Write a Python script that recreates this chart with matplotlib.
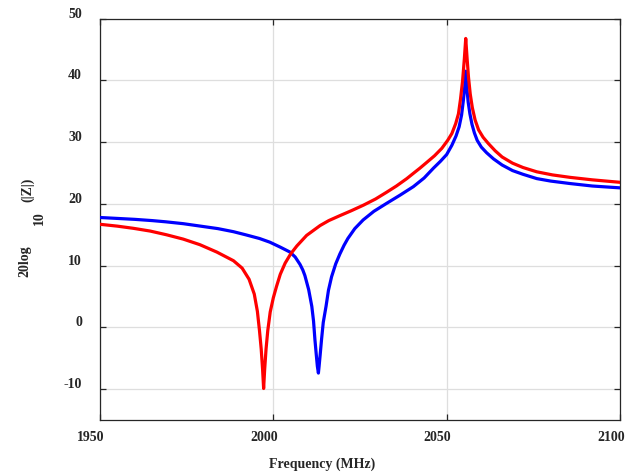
import matplotlib
matplotlib.use("Agg")
import matplotlib.pyplot as plt
import matplotlib.transforms as mtransforms

# Data (frequency in MHz, 20log10|Z| in dB)
blue_f = [1950, 1955, 1960, 1965, 1969, 1974, 1979, 1984, 1988.5, 1992, 1996, 1999,
          2002, 2004.8, 2006.3, 2007.7, 2008.5, 2009.1, 2010.2, 2011.1, 2011.6, 2012.0,
          2012.4, 2012.7, 2013.0, 2013.2, 2013.5, 2013.9, 2014.4, 2015.2, 2015.9, 2016.8,
          2018.0, 2019.2, 2020.4, 2021.5, 2023.5, 2025.9, 2029.0, 2032.7, 2036.5, 2040.4,
          2043.5, 2046.2, 2048.2, 2050.0, 2051.5, 2052.7, 2053.6, 2054.3, 2054.8, 2055.2,
          2055.5, 2055.8, 2056.2, 2056.7, 2057.3, 2058.0, 2058.8, 2060.0, 2061.5, 2063.5,
          2066.0, 2069.0, 2072.0, 2076.0, 2080.0, 2085.6, 2092.0, 2100]
blue_v = [17.8, 17.65, 17.5, 17.3, 17.1, 16.8, 16.4, 16.0, 15.5, 15.0, 14.4, 13.8,
          13.0, 12.2, 11.4, 10.2, 9.3, 8.4, 6.1, 3.4, 1.0, -2.0,
          -4.5, -6.3, -7.4, -6.3, -4.5, -2.0, 0.8, 3.4, 6.0, 8.2,
          10.3, 11.9, 13.3, 14.4, 16.0, 17.4, 18.8, 20.1, 21.4, 22.8,
          24.2, 25.8, 26.9, 28.0, 29.5, 31.0, 32.5, 34.4, 36.7, 38.9,
          41.5, 38.9, 36.5, 34.6, 32.9, 31.5, 30.3, 29.2, 28.3, 27.3,
          26.3, 25.4, 24.8, 24.1, 23.7, 23.3, 22.9, 22.6]

red_f = [1950, 1955, 1959.6, 1964.5, 1969.2, 1974, 1978.8, 1983.7, 1988.5, 1991.0,
         1993.0, 1994.5, 1995.4, 1996.0, 1996.5, 1996.9, 1997.2, 1997.5, 1997.9, 1998.4,
         1999.1, 2000.0, 2000.9, 2002.0, 2003.4, 2005.0, 2006.8, 2009.6, 2013.5, 2016.0,
         2019.2, 2022.5, 2026.0, 2029.5, 2032.7, 2035.5, 2038.5, 2040.5, 2042.3, 2044.2,
         2046.5, 2048.6, 2050.3, 2051.5, 2052.6, 2053.4, 2054.0, 2054.6, 2055.1, 2055.5,
         2055.9, 2056.3, 2056.8, 2057.4, 2058.2, 2059.2, 2060.5, 2062.0, 2064.0, 2066.0,
         2069.0, 2072.0, 2076.0, 2080.5, 2085.6, 2092.0, 2100]
red_v = [16.7, 16.4, 16.05, 15.6, 15.0, 14.3, 13.4, 12.2, 10.8, 9.6,
         7.8, 5.4, 2.6, -0.5, -3.5, -6.8, -9.9, -6.8, -3.5, -0.5,
         2.5, 4.8, 6.6, 8.6, 10.4, 11.9, 13.2, 14.9, 16.5, 17.3,
         18.1, 18.9, 19.8, 20.8, 21.9, 22.9, 24.1, 25.0, 25.8, 26.7,
         27.8, 29.0, 30.3, 31.4, 33.0, 34.6, 37.0, 40.0, 43.5, 46.8,
         43.5, 40.5, 37.8, 35.6, 33.6, 32.0, 30.8, 29.8, 28.6, 27.6,
         26.6, 25.9, 25.2, 24.7, 24.3, 23.9, 23.5]

x_ticks = [1950, 2000, 2050, 2100]
y_ticks = [-10, 0, 10, 20, 30, 40, 50]

W, H = 636, 474
fig = plt.figure(figsize=(W / 100, H / 100), dpi=100)
ax = fig.add_axes([100 / W, 1 - 420 / H, 520 / W, (420 - 18.7) / H])

text_color = "#262626"
font = dict(family=["Liberation Serif", "DejaVu Serif"], weight="bold", size=10, color=text_color)

ax.plot(blue_f, blue_v, color="#0000ff", lw=2.3, solid_joinstyle="round", zorder=3)
ax.plot(red_f, red_v, color="#ff0000", lw=2.3, solid_joinstyle="round", zorder=4)

ax.set_xlim(1950, 2100)
ax.set_ylim(-15, 50)
ax.set_xticks(x_ticks)
ax.set_yticks(y_ticks)
ax.set_xticklabels([str(t) for t in x_ticks], fontdict=font)
ax.set_yticklabels([str(t) for t in y_ticks], fontdict=font)
ax.grid(True, color="#dedede", lw=0.9)
ax.set_axisbelow(True)
ax.tick_params(direction="in", length=4, width=0.9, color=text_color,
               top=True, right=True)
ax.tick_params(axis="y", pad=13)
ax.tick_params(axis="x", pad=8)
for s in ax.spines.values():
    s.set_color(text_color)
    s.set_linewidth(0.9)

# shift tick labels like the reference
dy = mtransforms.ScaledTranslation(0, 6 / 100, fig.dpi_scale_trans)
for lab in ax.get_yticklabels():
    lab.set_transform(lab.get_transform() + dy)
dx = mtransforms.ScaledTranslation(-9 / 100, 0, fig.dpi_scale_trans)
for lab in ax.get_xticklabels():
    lab.set_transform(lab.get_transform() + dx)

fig.text(322.5 / W, 1 - 464 / H, "Frequency (MHz)", ha="center", va="center", **font)
fig.text(25 / W, 1 - 261 / H, "20log", rotation=90, ha="center", va="center", **font)
fig.text(39 / W, 1 - 218 / H, "10", rotation=90, ha="center", va="center", **font)
fig.text(28 / W, 1 - 190 / H, "(|Z|)", rotation=90, ha="center", va="center", **font)

fig.savefig("out.png", dpi=100)
